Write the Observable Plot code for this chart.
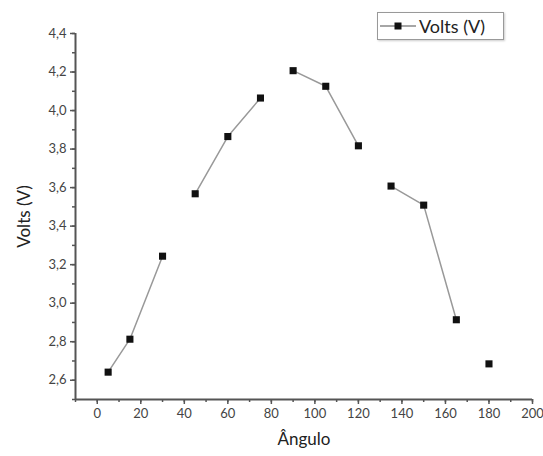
<!DOCTYPE html>
<html><head><meta charset="utf-8">
<script src="https://cdn.jsdelivr.net/npm/d3@7"></script>
<script src="https://cdn.jsdelivr.net/npm/@observablehq/plot@0.6"></script>
<style>
body{margin:0;background:#fff;}
#wrap{position:relative;width:543px;height:456px;font-family:Lato,"Open Sans",sans-serif;}
#legend{position:absolute;left:377px;top:12px;width:127px;height:28px;border:1.5px solid #999;box-sizing:border-box;display:flex;align-items:center;background:#fff;box-shadow:1px 1px 2px #ccc;z-index:2;}
#legend span{font-size:18px;color:#222;margin-left:1px;}
</style></head>
<body><div id="wrap"><div id="legend"><svg width="40" height="20"><line x1="2" y1="10" x2="38" y2="10" stroke="#888" stroke-width="1.5"/><rect x="16.5" y="6.5" width="7" height="7" fill="#111"/></svg><span>Volts (V)</span></div></div>
<script>
const angles = [5, 15, 30, 45, 60, 75, 90, 105, 120, 135, 150, 165, 180];
const volts = [2.642, 2.813, 3.244, 3.568, 3.865, 4.065, 4.207, 4.126, 3.817, 3.608, 3.509, 2.914, 2.685];
const segment = [1, 1, 1, 2, 2, 2, 3, 3, 3, 4, 4, 4, 5];
const xMajor = d3.range(0, 201, 20);
const xMinor = d3.range(-10, 201, 10);
const yMajor = [2.6, 2.8, 3.0, 3.2, 3.4, 3.6, 3.8, 4.0, 4.2, 4.4];
const yMinor = d3.range(25, 45).map(d => d / 10);

const data = angles.map((a, i) => ({angle: a, volt: volts[i], seg: segment[i]}));
const fmtX = d => String(d);
const fmtY = d => d3.format(".1f")(d).replace(".", ",");
const blank = () => "";

const chart = Plot.plot({
  width: 543, height: 456,
  marginLeft: 75, marginRight: 11, marginTop: 33, marginBottom: 57,
  style: {fontFamily: "Lato, 'Open Sans', sans-serif", fontSize: "13px", color: "#333", background: "#fff"},
  x: {domain: [-10, 200]},
  y: {domain: [2.5, 4.4]},
  marks: [
    Plot.axisX({ticks: xMinor, tickSize: 3, tickFormat: blank, label: null, stroke: "#555", strokeWidth: 1.5}),
    Plot.axisX({ticks: xMajor, tickSize: 5, tickFormat: fmtX, label: "Ângulo", labelAnchor: "center", labelOffset: 45, labelArrow: "none", stroke: "#555", strokeWidth: 1.5, fontSize: 13, fill: "#444"}),
    Plot.axisY({ticks: yMinor, tickSize: 3, tickFormat: blank, label: null, stroke: "#555", strokeWidth: 1.5}),
    Plot.axisY({ticks: yMajor, tickSize: 5, tickFormat: fmtY, label: "Volts (V)", labelAnchor: "center", labelOffset: 58, labelArrow: "none", stroke: "#555", strokeWidth: 1.5, fontSize: 13, fill: "#444"}),
    Plot.ruleY([2.5], {stroke: "#555", strokeWidth: 2}),
    Plot.ruleX([-10], {stroke: "#555", strokeWidth: 2}),
    Plot.line(data, {x: "angle", y: "volt", z: "seg", stroke: "#999", strokeWidth: 1.5}),
    Plot.dot(data, {x: "angle", y: "volt", symbol: "square", r: 4, fill: "#111", stroke: "none"})
  ]
});
chart.querySelectorAll("[aria-label='x-axis label'] text, [aria-label='y-axis label'] text").forEach(t => { t.style.fontSize = "17px"; t.setAttribute("fill", "#222"); });
document.getElementById("wrap").prepend(chart);
chart.style.position = "absolute"; chart.style.left = "0"; chart.style.top = "0";
</script></body></html>
